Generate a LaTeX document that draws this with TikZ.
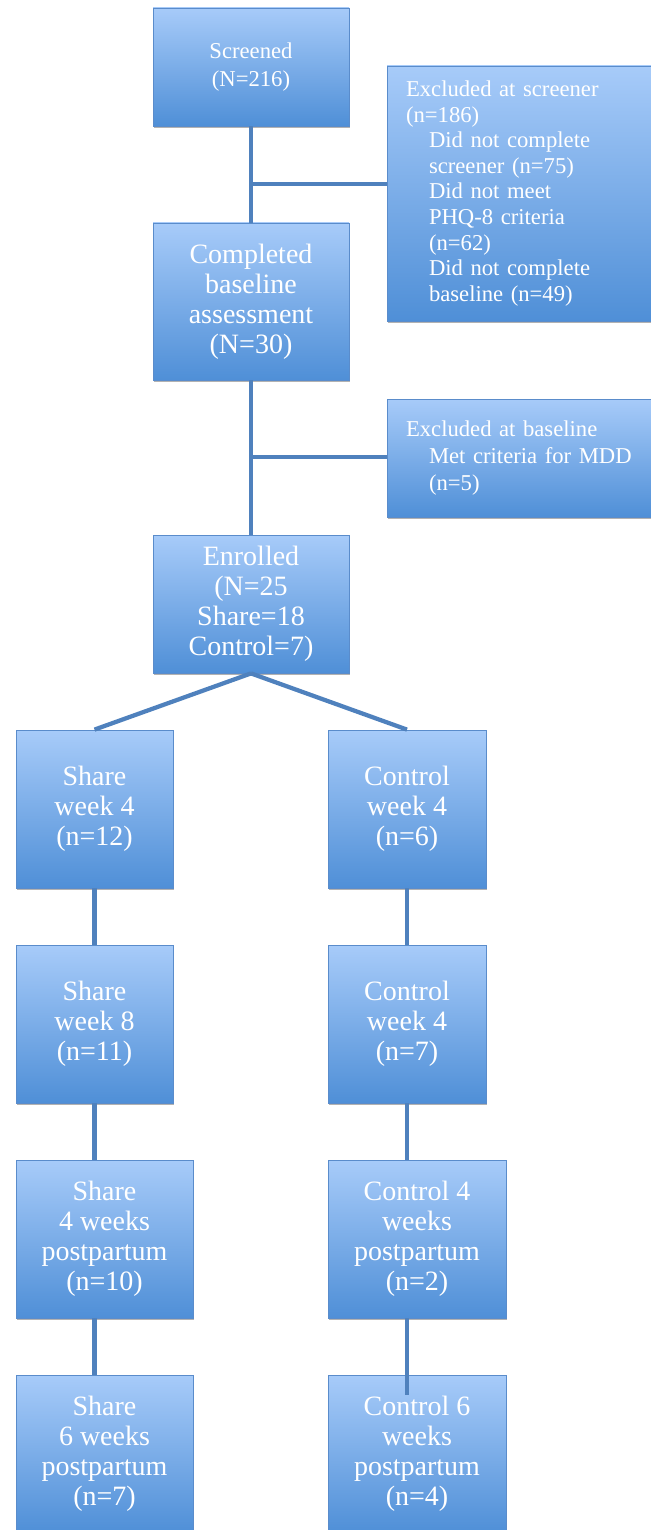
\documentclass[tikz,border=0pt]{standalone}
\usepackage{fontspec}
\setmainfont{Liberation Serif}
\usetikzlibrary{shadows}
\definecolor{boxtop}{HTML}{A7CBF9}
\definecolor{boxbot}{HTML}{4F8FD7}
\definecolor{boxline}{HTML}{5A8CCB}
\definecolor{connline}{HTML}{4F81BD}
\tikzset{
  px/.style={x=0.75pt,y=-0.75pt},
  flowbox/.style={draw=boxline, line width=0.6pt, top color=boxtop, bottom color=boxbot,
    text=white, inner sep=0pt, align=center,
    drop shadow={shadow xshift=0.6pt, shadow yshift=-1.6pt, opacity=0.3, fill=black}},
  bigtext/.style={font=\fontsize{21}{22.5}\selectfont},
  smalltext/.style={font=\fontsize{17}{19.2}\selectfont},
  exclbox/.style={flowbox, align=left, inner xsep=14.25pt, inner ysep=0pt},
  conn/.style={draw=connline, line width=3.2pt}
}
\newcommand{\ind}{\hspace*{17.25pt}}
\begin{document}
\begin{tikzpicture}[px]
\useasboundingbox (0,0) rectangle (650,1530);
% main column
\node[flowbox, font=\fontsize{17}{21}\selectfont, minimum width=147pt, minimum height=88.5pt] (scr) at (251,67) {Screened\\(N=216)};
\node[flowbox, bigtext, minimum width=147pt, minimum height=117.75pt] (comp) at (251,301.5) {Completed\\baseline\\assessment\\(N=30)};
\node[flowbox, bigtext, minimum width=147pt, minimum height=103.5pt] (enr) at (251,604) {Enrolled\\(N=25\\Share=18\\Control=7)};
% exclusion boxes
\node[exclbox, smalltext, text width=176.25pt, minimum height=191.25pt] (exs) at (523.5,193.5)
  {Excluded at screener\\(n=186)\\\ind Did not complete\\\ind screener (n=75)\\\ind Did not meet\\\ind PHQ-8 criteria\\\ind (n=62)\\\ind Did not complete\\\ind baseline (n=49)};
\node[exclbox, font=\fontsize{17}{20}\selectfont, text width=176.25pt, minimum height=88.5pt] (exb) at (523.5,458)
  {Excluded at baseline\\\ind Met criteria for MDD\\\ind (n=5)};
% share arm
\node[flowbox, bigtext, minimum width=117.75pt, minimum height=118.5pt] (s1) at (94.5,809) {Share\\week 4\\(n=12)};
\node[flowbox, bigtext, minimum width=117.75pt, minimum height=118.5pt] (s2) at (94.5,1024) {Share\\week 8\\(n=11)};
\node[flowbox, bigtext, minimum width=132.75pt, minimum height=118.5pt] (s3) at (104.5,1239) {Share\\4 weeks\\postpartum\\(n=10)};
\node[flowbox, bigtext, minimum width=132.75pt, minimum height=118.5pt] (s4) at (104.5,1454) {Share\\6 weeks\\postpartum\\(n=7)};
% control arm
\node[flowbox, bigtext, minimum width=118.5pt, minimum height=118.5pt] (c1) at (407,809) {Control\\week 4\\(n=6)};
\node[flowbox, bigtext, minimum width=118.5pt, minimum height=118.5pt] (c2) at (407,1024) {Control\\week 4\\(n=7)};
\node[flowbox, bigtext, minimum width=133.5pt, minimum height=118.5pt] (c3) at (417,1239) {Control 4\\weeks\\postpartum\\(n=2)};
\node[flowbox, bigtext, minimum width=133.5pt, minimum height=118.5pt] (c4) at (417,1454) {Control 6\\weeks\\postpartum\\(n=4)};
% junction coordinates
\coordinate (j1) at (251,184);
\coordinate (j2) at (251,457);
\coordinate (ce) at (407,1395);
% connectors
\draw[conn] (scr.south) -- (comp.north);
\draw[conn] (j1) -- (j1 -| exs.west);
\draw[conn] (comp.south) -- (enr.north);
\draw[conn] (j2) -- (j2 -| exb.west);
\draw[conn] (enr.south) -- (s1.north);
\draw[conn] (enr.south) -- (c1.north);
\draw[conn] (s1.south) -- (s2.north);
\draw[conn] (c1.south) -- (c2.north);
\draw[conn] (s2.south) -- (s2.south |- s3.north);
\draw[conn] (c2.south) -- (c2.south |- c3.north);
\draw[conn] (s3.south -| s2.south) -- (s4.north -| s2.south);
\draw[conn] (c3.south -| ce) -- (ce);
\end{tikzpicture}
\end{document}
